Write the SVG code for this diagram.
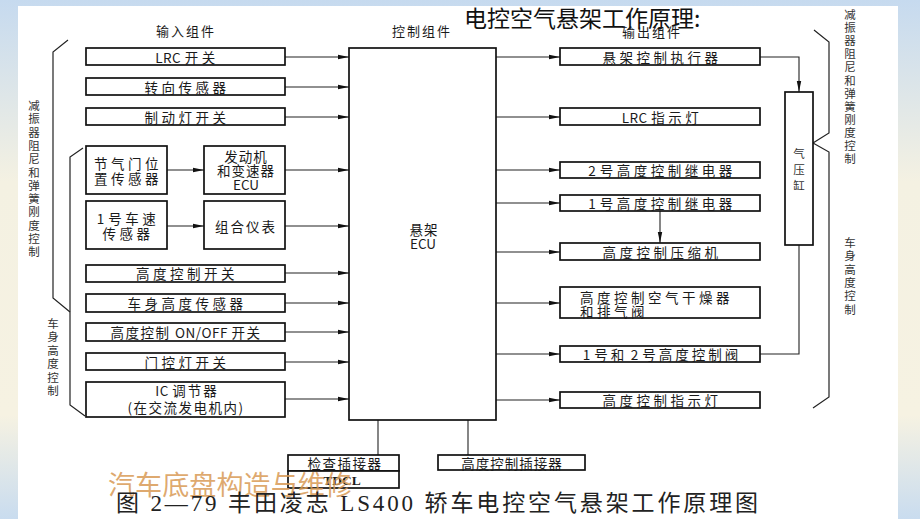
<svg xmlns="http://www.w3.org/2000/svg" width="920" height="519" viewBox="0 0 920 519">
<defs>
<linearGradient id="bg" x1="0" y1="0" x2="0" y2="1">
<stop offset="0" stop-color="#c6daef"/>
<stop offset="0.35" stop-color="#f4f1e2"/>
<stop offset="0.8" stop-color="#f6f2e2"/>
<stop offset="1" stop-color="#c9dcef"/>
</linearGradient>
<marker id="ah" markerUnits="userSpaceOnUse" markerWidth="11" markerHeight="6" refX="11" refY="3" orient="auto">
<path d="M0,0.8 L11,3 L0,5.2 z" fill="#111"/>
</marker>
<style>
.box{fill:#fff;stroke:#111;stroke-width:1.7}
.ln{fill:none;stroke:#222;stroke-width:1.1}
.br{fill:none;stroke:#222;stroke-width:1.2}
.t{font-family:"Noto Sans CJK SC","Noto Sans",sans-serif;font-size:13.5px;fill:#1a1a1a;text-anchor:middle;dominant-baseline:central;letter-spacing:3.5px}
.tl{font-family:"Noto Sans CJK SC","Noto Sans",sans-serif;font-size:13.5px;fill:#1a1a1a;dominant-baseline:central;letter-spacing:3.5px}
.la{letter-spacing:0.5px}
.h{font-family:"Noto Sans CJK SC",sans-serif;font-size:13px;fill:#1a1a1a;text-anchor:middle;dominant-baseline:central;letter-spacing:2px}
.v{font-family:"Noto Sans CJK SC",sans-serif;font-size:11.5px;fill:#333;text-anchor:middle;dominant-baseline:central}
</style>
</defs>
<rect x="0" y="0" width="920" height="519" fill="url(#bg)"/>
<rect x="18" y="6" width="880" height="513" fill="#fff"/>

<g id="headers">
<text class="h" x="186" y="30">输入组件</text>
<text class="h" x="422" y="30">控制组件</text>
<text class="h" x="652" y="31">输出组件</text>
</g>
<g id="title"><text x="464" y="27" font-family="Noto Sans CJK SC,sans-serif" font-size="23" fill="#111">电控空气悬架工作原理:</text></g>

<g id="braces">
<path class="br" d="M68,40 L53,52 L53,298 L70,312"/>
<path class="br" d="M83,148 L70,157 L70,405 L85,416"/>
<path class="br" d="M814,30 L829,42 L829,133 L813,143 L829,152 L829,397 L813,408"/>
<text class="v"><tspan x="34" y="105">减</tspan><tspan x="34" dy="13.3">振</tspan><tspan x="34" dy="13.3">器</tspan><tspan x="34" dy="13.3">阻</tspan><tspan x="34" dy="13.3">尼</tspan><tspan x="34" dy="13.3">和</tspan><tspan x="34" dy="13.3">弹</tspan><tspan x="34" dy="13.3">簧</tspan><tspan x="34" dy="13.3">刚</tspan><tspan x="34" dy="13.3">度</tspan><tspan x="34" dy="13.3">控</tspan><tspan x="34" dy="13.3">制</tspan></text>
<text class="v"><tspan x="53" y="323">车</tspan><tspan x="53" dy="13.4">身</tspan><tspan x="53" dy="13.4">高</tspan><tspan x="53" dy="13.4">度</tspan><tspan x="53" dy="13.4">控</tspan><tspan x="53" dy="13.4">制</tspan></text>
<text class="v"><tspan x="850" y="14">减</tspan><tspan x="850" dy="13.1">振</tspan><tspan x="850" dy="13.1">器</tspan><tspan x="850" dy="13.1">阻</tspan><tspan x="850" dy="13.1">尼</tspan><tspan x="850" dy="13.1">和</tspan><tspan x="850" dy="13.1">弹</tspan><tspan x="850" dy="13.1">簧</tspan><tspan x="850" dy="13.1">刚</tspan><tspan x="850" dy="13.1">度</tspan><tspan x="850" dy="13.1">控</tspan><tspan x="850" dy="13.1">制</tspan></text>
<text class="v"><tspan x="850" y="242">车</tspan><tspan x="850" dy="13.3">身</tspan><tspan x="850" dy="13.3">高</tspan><tspan x="850" dy="13.3">度</tspan><tspan x="850" dy="13.3">控</tspan><tspan x="850" dy="13.3">制</tspan></text>
</g>

<g id="connectors">
<path class="ln" marker-end="url(#ah)" d="M285,57 H349"/>
<path class="ln" marker-end="url(#ah)" d="M285,87 H349"/>
<path class="ln" marker-end="url(#ah)" d="M285,117 H349"/>
<path class="ln" marker-end="url(#ah)" d="M167,170 H204"/>
<path class="ln" marker-end="url(#ah)" d="M285,170 H349"/>
<path class="ln" marker-end="url(#ah)" d="M167,226 H204"/>
<path class="ln" marker-end="url(#ah)" d="M285,226 H349"/>
<path class="ln" marker-end="url(#ah)" d="M285,273 H349"/>
<path class="ln" marker-end="url(#ah)" d="M285,303 H349"/>
<path class="ln" marker-end="url(#ah)" d="M285,332 H349"/>
<path class="ln" marker-end="url(#ah)" d="M285,362 H349"/>
<path class="ln" marker-end="url(#ah)" d="M285,399 H349"/>
<path class="ln" marker-end="url(#ah)" d="M496,57 H560"/>
<path class="ln" marker-end="url(#ah)" d="M496,117 H560"/>
<path class="ln" marker-end="url(#ah)" d="M496,170 H560"/>
<path class="ln" marker-end="url(#ah)" d="M496,203 H560"/>
<path class="ln" marker-end="url(#ah)" d="M496,252 H560"/>
<path class="ln" marker-end="url(#ah)" d="M496,303 H560"/>
<path class="ln" marker-end="url(#ah)" d="M496,354 H560"/>
<path class="ln" marker-end="url(#ah)" d="M496,400 H560"/>
<path class="ln" marker-end="url(#ah)" d="M760,57 H799 V92"/>
<path class="ln" marker-end="url(#ah)" d="M660,211 V243"/>
<path class="ln" d="M760,354 H799 V245"/>
<path class="ln" d="M378,420 V455"/>
<path class="ln" d="M468,420 V455"/>
</g>

<g id="ecu"><rect class="box" x="349" y="48" width="147" height="372"/><text class="t" x="424" y="229" style="letter-spacing:1px">悬架</text><text class="t" x="423" y="243" style="letter-spacing:0">ECU</text></g>

<g id="in-lrc"><rect class="box" x="86" y="48" width="199" height="17"/><text class="t" x="187" y="57"><tspan class="la">LRC </tspan>开关</text></g>
<g id="in-steer"><rect class="box" x="86" y="78" width="199" height="17"/><text class="t" x="187" y="87">转向传感器</text></g>
<g id="in-brake"><rect class="box" x="86" y="108" width="199" height="17"/><text class="t" x="187" y="117">制动灯开关</text></g>
<g id="in-throttle"><rect class="box" x="86" y="146" width="81" height="48"/><text class="t" x="128" y="163">节气门位</text><text class="t" x="128" y="178">置传感器</text></g>
<g id="in-engine-ecu"><rect class="box" x="204" y="146" width="81" height="48"/><text class="t" x="246" y="156" style="letter-spacing:1px">发动机</text><text class="t" x="246" y="170" style="letter-spacing:1px">和变速器</text><text class="t" x="246" y="184" style="letter-spacing:0">ECU</text></g>
<g id="in-speed"><rect class="box" x="86" y="201" width="81" height="48"/><text class="t" x="128" y="218"><tspan class="la">1 </tspan>号车速</text><text class="t" x="128" y="233">传感器</text></g>
<g id="in-meter"><rect class="box" x="204" y="201" width="81" height="48"/><text class="t" x="246" y="226" style="letter-spacing:2px">组合仪表</text></g>
<g id="in-hswitch"><rect class="box" x="86" y="265" width="199" height="17"/><text class="t" x="187" y="273">高度控制开关</text></g>
<g id="in-hsensor"><rect class="box" x="86" y="294" width="199" height="18"/><text class="t" x="187" y="303">车身高度传感器</text></g>
<g id="in-onoff"><rect class="box" x="86" y="323" width="199" height="18"/><text class="t" x="186" y="332" style="letter-spacing:1.5px">高度控制 <tspan class="la">ON/OFF </tspan>开关</text></g>
<g id="in-door"><rect class="box" x="86" y="353" width="199" height="17"/><text class="t" x="187" y="362">门控灯开关</text></g>
<g id="in-ic"><rect class="box" x="86" y="382" width="199" height="35"/><text class="t" x="187" y="390" style="letter-spacing:2px"><tspan class="la">IC </tspan>调节器</text><text class="t" x="186" y="407" style="letter-spacing:1.5px">(在交流发电机内)</text></g>

<g id="out-actuator"><rect class="box" x="560" y="48" width="200" height="17"/><text class="t" x="662" y="57">悬架控制执行器</text></g>
<g id="out-lrc"><rect class="box" x="560" y="108" width="200" height="17"/><text class="t" x="662" y="117"><tspan class="la">LRC </tspan>指示灯</text></g>
<g id="out-relay2"><rect class="box" x="560" y="162" width="200" height="16"/><text class="t" x="662" y="170"><tspan class="la">2 </tspan>号高度控制继电器</text></g>
<g id="out-relay1"><rect class="box" x="560" y="195" width="200" height="16"/><text class="t" x="662" y="203"><tspan class="la">1 </tspan>号高度控制继电器</text></g>
<g id="out-compressor"><rect class="box" x="560" y="243" width="200" height="17"/><text class="t" x="662" y="252">高度控制压缩机</text></g>
<g id="out-dryer"><rect class="box" x="560" y="287" width="200" height="31"/><text class="tl" x="580" y="297">高度控制空气干燥器</text><text class="tl" x="580" y="311">和排气阀</text></g>
<g id="out-valve"><rect class="box" x="560" y="346" width="200" height="16"/><text class="t" x="662" y="354" style="letter-spacing:3px"><tspan class="la">1 </tspan>号和<tspan class="la"> 2 </tspan>号高度控制阀</text></g>
<g id="out-lamp"><rect class="box" x="560" y="392" width="200" height="16"/><text class="t" x="662" y="400">高度控制指示灯</text></g>
<g id="cylinder"><rect class="box" x="785" y="92" width="28" height="153"/><text class="v"><tspan x="799" y="153">气</tspan><tspan x="799" dy="16">压</tspan><tspan x="799" dy="16">缸</tspan></text></g>

<g id="check-conn"><rect class="box" x="288" y="455" width="111" height="16"/><rect class="box" x="288" y="471" width="111" height="17"/><text class="t" x="345" y="463" style="letter-spacing:1.5px">检查插接器</text><text class="t" x="342" y="480" style="letter-spacing:0;font-weight:bold;font-family:'Liberation Serif',serif">TDCL</text></g>
<g id="height-conn"><rect class="box" x="438" y="455" width="147" height="15"/><text class="t" x="512" y="463" style="letter-spacing:1px">高度控制插接器</text></g>

<text x="108" y="495" font-family="Noto Sans CJK SC,sans-serif" font-size="27" fill="#d89a55" fill-opacity="0.85" textLength="244" lengthAdjust="spacingAndGlyphs">汽车底盘构造与维修</text>
<text x="116" y="511" font-family="Liberation Serif,Noto Sans CJK SC,serif" font-size="23" fill="#222" textLength="642" lengthAdjust="spacing">图 2—79 丰田凌志 LS400 轿车电控空气悬架工作原理图</text>
</svg>
